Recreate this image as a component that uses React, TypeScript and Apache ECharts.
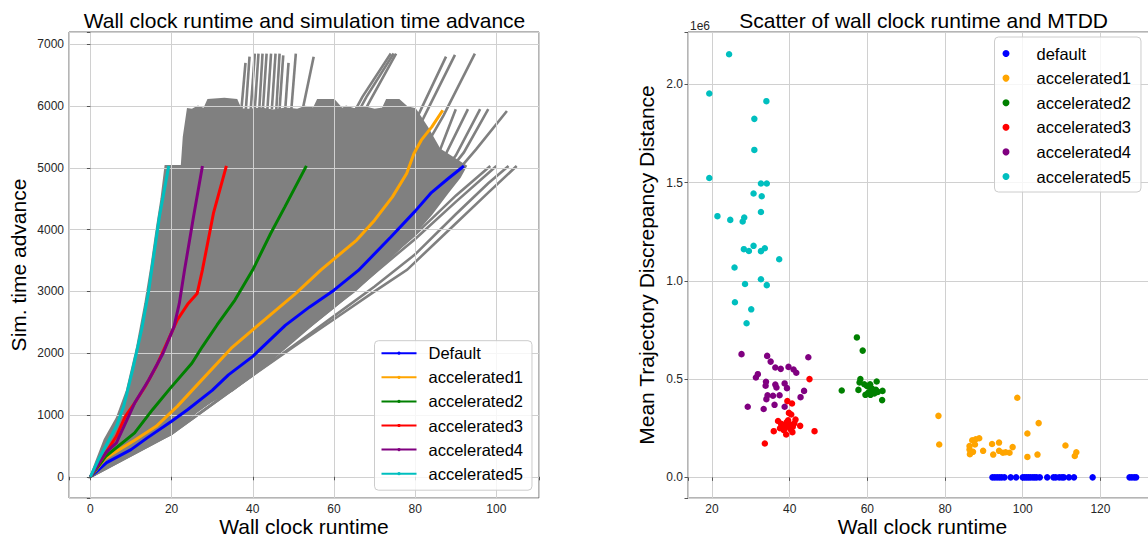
import { useEffect, useRef } from 'react';
import * as echarts from 'echarts';

const FONT = 'Liberation Sans, Arial, Helvetica, sans-serif';
const GREY = '#808080';

// ---------- Left chart: wall clock runtime vs simulation time advance ----------
const lineNames = ['Default', 'accelerated1', 'accelerated2', 'accelerated3', 'accelerated4', 'accelerated5'];
const lineColors = ['#0000ff', '#ffa500', '#008000', '#ff0000', '#800080', '#00bfbf'];

const defaultLine = [[0, 0], [4, 230], [10, 440], [14, 630], [20, 900], [24, 1090], [30, 1400], [34, 1650], [40, 1950], [48, 2450], [54, 2750], [60, 3020], [66, 3340], [74, 3880], [80, 4300], [84, 4600], [88, 4820], [92, 5030]];
const acc1Line = [[0, 0], [3.8, 306], [10.9, 591], [16.2, 817], [21.4, 1140], [26.7, 1516], [34.7, 2081], [40.9, 2430], [50.6, 2968], [56.8, 3350], [65.6, 3831], [70, 4154], [74.4, 4531], [77.9, 4908], [79.7, 5232], [81.5, 5448], [84.1, 5663], [86.8, 5933]];
const acc2Line = [[0, 0], [3.8, 333], [10.9, 710], [15.3, 1086], [19.7, 1435], [25, 1839], [27.6, 2108], [31.2, 2457], [35.6, 2860], [40, 3350], [44.4, 3938], [47.9, 4369], [53.2, 5032]];
const acc3Line = [[0, 0], [3.8, 387], [6.4, 656], [8.6, 978], [10.9, 1194], [13.5, 1462], [16.2, 1785], [18.8, 2161], [21.4, 2538], [24.1, 2806], [26.3, 2968], [27.6, 3350], [30.3, 4262], [33.5, 5032]];
const acc4Line = [[0, 0], [3.8, 390], [6.4, 548], [10.9, 1194], [14.4, 1570], [17.9, 2000], [20.6, 2430], [21.9, 2806], [23.2, 3350], [25.4, 4208], [27.6, 5032]];
const acc5Line = [[0, 0], [2, 280], [6.4, 817], [8.2, 1140], [10.4, 1731], [12.6, 2376], [14.4, 3022], [15.1, 3350], [17, 4208], [19.3, 5032]];
const coloredLines = [defaultLine, acc1Line, acc2Line, acc3Line, acc4Line, acc5Line];

// dense overlapping grey runs (solid core outline)
const greyCore = [
  [0, 0], [5, 190], [10, 380], [15, 540], [20, 690], [26, 1040], [30, 1230], [35, 1400], [40, 1650], [45, 1920], [50, 2200], [55, 2480], [60, 2750], [65, 3000], [70, 3300], [75, 3620], [80, 3950], [84, 4250], [88, 4600], [91, 4850], [92.5, 5030],
  [86, 5300], [83, 5650], [80, 5950], [78, 5980], [76, 6100], [73, 6100], [72, 5960], [70, 5940], [67, 5990], [65, 5950], [63, 5990], [62, 5950], [60, 6100], [56, 6100], [55, 5960], [53, 5990], [51, 5940], [48, 5960], [45, 5930], [42, 5960], [39, 5940], [37, 5950], [36, 6100], [33, 6120], [29, 6100], [28, 5950], [26.5, 5990], [25, 5940], [24, 5950],
  [23, 5500], [22.5, 5030], [18.5, 5030], [17.5, 4500], [16.3, 4000], [15, 3400], [13.5, 2800], [11.5, 2100], [9, 1400], [6.5, 950], [3.5, 600], [0, 0],
];

// individual grey runs that stand out of the dense core
const greyRuns = [
  [[37.2, 5950], [38.2, 6700]],
  [[38.3, 5950], [39.2, 6800]],
  [[39.5, 5950], [40.5, 6850]],
  [[40.5, 5950], [41.4, 6850]],
  [[41.6, 5950], [42.4, 6850]],
  [[42.5, 5950], [43.4, 6850]],
  [[43.6, 5950], [44.5, 6850]],
  [[44.7, 5950], [45.6, 6850]],
  [[45.8, 5950], [46.6, 6850]],
  [[46.6, 5950], [47.5, 6820]],
  [[48.0, 5950], [48.8, 6700]],
  [[49.5, 5950], [50.6, 6850]],
  [[52.3, 5950], [55.0, 6800]],
  [[60, 5300], [67, 6150], [74, 6850]],
  [[61, 5300], [68, 6150], [74.7, 6850]],
  [[62.5, 5300], [69, 6100], [75.3, 6850]],
  [[70, 4600], [80, 5750], [87.6, 6800]],
  [[72, 4600], [82, 5800], [89.8, 6830]],
  [[76, 4600], [87, 5850], [94.7, 6850]],
  [[0, 0], [40, 1800], [60, 3050], [75, 4200], [85, 5100], [90, 5950]],
  [[0, 0], [40, 1750], [60, 2950], [75, 4100], [87, 5150], [93, 5950]],
  [[0, 0], [40, 1700], [60, 2900], [78, 4200], [90, 5200], [96, 5950]],
  [[0, 0], [40, 1700], [60, 2850], [80, 4250], [92, 5250], [98, 5950]],
  [[0, 0], [40, 1650], [60, 2800], [80, 4150], [95, 5300], [102.6, 5920]],
  [[0, 0], [20, 700], [35.6, 1440], [50, 2100], [60, 2550], [70, 3000], [78, 3350], [90, 4100], [98, 4600], [105, 5030]],
  [[0, 0], [20, 700], [35.6, 1440], [50, 2120], [60, 2600], [70, 3080], [80, 3600], [90, 4250], [98, 4750], [103, 5030]],
  [[0, 0], [40, 1700], [60, 2750], [70, 3300], [80, 3850], [90, 4450], [100, 5030]],
  [[0, 0], [40, 1700], [60, 2780], [70, 3350], [80, 3920], [90, 4550], [98.5, 5030]],
];

// ---------- Right chart: scatter of wall clock runtime and MTDD ----------
const scatterNames = ['default', 'accelerated1', 'accelerated2', 'accelerated3', 'accelerated4', 'accelerated5'];
const scatterColors = ['#0000ff', '#ffa500', '#008000', '#ff0000', '#800080', '#00bfbf'];

const scDefault = [[92.2, 0], [92.8, 0], [93.4, 0], [94.0, 0], [94.6, 0], [95.3, 0], [96.9, 0], [98.3, 0], [100.0, 0], [100.5, 0], [101.0, 0], [101.5, 0], [102.0, 0], [102.6, 0], [103.1, 0], [103.6, 0], [104.4, 0], [106.3, 0], [107.9, 0], [108.5, 0], [109.4, 0], [110.1, 0], [110.6, 0], [111.9, 0], [113.2, 0], [118.0, 0], [127.5, 0], [128.1, 0], [128.7, 0], [129.2, 0]];
const scAcc1 = [[78.3, 313000], [78.5, 167000], [86.3, 159000], [86.3, 142000], [86.4, 118000], [87.0, 189000], [87.7, 167000], [87.9, 194000], [88.8, 199000], [87.2, 130000], [89.8, 135000], [92.1, 170000], [92.4, 116000], [93.9, 177000], [93.9, 135000], [94.9, 125000], [95.6, 128000], [96.6, 125000], [97.4, 154000], [98.6, 405000], [101.2, 223000], [101.2, 104000], [103.8, 116000], [104.1, 276000], [111.0, 162000], [113.4, 109000], [113.8, 128000]];
const scAcc2 = [[53.4, 442000], [57.3, 712000], [58.8, 645000], [58.2, 500000], [58.0, 483000], [57.7, 445000], [59.2, 474000], [60.7, 474000], [62.4, 488000], [60.3, 461000], [61.2, 452000], [59.5, 420000], [60.8, 420000], [61.8, 427000], [62.7, 435000], [63.9, 440000], [63.8, 393000], [59.9, 465000], [61.5, 440000], [62.2, 445000], [60.2, 430000], [61.0, 432000]];
const scAcc3 = [[45.1, 500000], [39.4, 388000], [40.6, 376000], [39.8, 328000], [40.4, 320000], [37.0, 287000], [41.5, 294000], [38.3, 265000], [39.2, 280000], [40.0, 270000], [39.0, 255000], [38.5, 240000], [40.8, 258000], [40.2, 245000], [37.8, 272000], [42.7, 262000], [41.2, 275000], [35.9, 235000], [39.1, 218000], [40.7, 230000], [46.4, 235000], [33.6, 172000], [37.5, 250000], [39.6, 290000]];
const scAcc4 = [[27.6, 627000], [34.2, 618000], [35.1, 589000], [36.3, 559000], [37.7, 552000], [39.7, 562000], [41.0, 549000], [41.7, 532000], [44.8, 611000], [31.8, 525000], [31.3, 508000], [33.9, 486000], [33.8, 466000], [36.3, 472000], [36.6, 457000], [38.7, 478000], [39.3, 454000], [43.7, 440000], [42.8, 408000], [34.3, 418000], [35.7, 415000], [37.4, 418000], [34.0, 398000], [29.2, 359000], [33.3, 348000], [36.1, 369000], [38.7, 359000]];
const scAcc5 = [[24.4, 2153000], [19.3, 1953000], [34.0, 1914000], [30.9, 1824000], [30.9, 1666000], [19.3, 1523000], [32.6, 1495000], [34.1, 1495000], [30.7, 1444000], [32.8, 1430000], [32.6, 1350000], [21.4, 1329000], [24.7, 1310000], [28.3, 1322000], [27.9, 1302000], [28.2, 1161000], [29.5, 1152000], [30.7, 1178000], [32.6, 1151000], [33.6, 1166000], [37.3, 1110000], [25.8, 1068000], [32.6, 1008000], [28.5, 984000], [34.1, 978000], [25.9, 891000], [30.1, 855000], [28.9, 784000]];
const scatterData = [scDefault, scAcc1, scAcc2, scAcc3, scAcc4, scAcc5];

const SC_PREFIX = 'sc:';

function buildOption(): any {
  const axisLabelBase = { fontFamily: FONT, fontSize: 12, color: '#262626', margin: 5 };
  const tick = { show: true, length: 3.5, lineStyle: { color: '#555' } };
  const split = { show: true, lineStyle: { color: '#d0d0d0', width: 1 } };
  const nameStyle = { fontFamily: FONT, fontSize: 21, color: '#000' };
  const mult = (step: number) => (v: number) => Math.abs(v / step - Math.round(v / step)) < 1e-6;

  const series: any[] = [];
  series.push({
    type: 'custom', xAxisIndex: 0, yAxisIndex: 0, z: -1, silent: true, data: [[0, 0]],
    renderItem: (_p: any, api: any) => ({
      type: 'polygon',
      shape: { points: greyCore.map((p) => api.coord(p)) },
      style: { fill: GREY, stroke: GREY, lineWidth: 2 },
    }),
  });
  series.push({
    type: 'custom', xAxisIndex: 0, yAxisIndex: 0, z: -1, silent: true,
    data: greyRuns.map((_r, i) => [i, 0]),
    renderItem: (p: any, api: any) => ({
      type: 'polyline',
      shape: { points: greyRuns[p.dataIndex].map((q) => api.coord(q)) },
      style: { stroke: GREY, lineWidth: 2.6, fill: null },
    }),
  });
  coloredLines.forEach((d, i) => {
    series.push({
      type: 'line', name: lineNames[i], xAxisIndex: 0, yAxisIndex: 0, data: d,
      showSymbol: false, symbol: 'circle', smooth: false,
      lineStyle: { width: 3, color: lineColors[i] }, itemStyle: { color: lineColors[i] }, z: 3,
    });
  });
  scatterData.forEach((d, i) => {
    series.push({
      type: 'scatter', name: SC_PREFIX + scatterNames[i], xAxisIndex: 1, yAxisIndex: 1, data: d,
      symbolSize: 6.5, itemStyle: { color: scatterColors[i], opacity: 1 }, z: 3,
    });
  });

  return {
    animation: false,
    backgroundColor: '#ffffff',
    title: [
      { text: 'Wall clock runtime and simulation time advance', left: 304.5, top: 9.5, textAlign: 'center', padding: 0, textStyle: { fontFamily: FONT, fontSize: 21, fontWeight: 'normal', color: '#000' } },
      { text: 'Scatter of wall clock runtime and MTDD', left: 923.6, top: 10, textAlign: 'center', padding: 0, textStyle: { fontFamily: FONT, fontSize: 21, fontWeight: 'normal', color: '#000' } },
    ],
    graphic: [
      { type: 'text', x: 690, y: 26, style: { text: '1e6', font: `12px ${FONT}`, fill: '#262626', verticalAlign: 'middle', align: 'left' } },
    ],
    grid: [
      { left: 69, top: 32, width: 470, height: 466, show: true, borderColor: '#6b6b6b', borderWidth: 1, backgroundColor: 'transparent', containLabel: false, outerBoundsMode: 'none' },
      { left: 688, top: 32, width: 469, height: 466, show: true, borderColor: '#6b6b6b', borderWidth: 1, backgroundColor: 'transparent', containLabel: false, outerBoundsMode: 'none' },
    ],
    xAxis: [
      {
        type: 'value', gridIndex: 0, min: -5.27, max: 110.5, splitNumber: 5,
        name: 'Wall clock runtime', nameLocation: 'middle', nameGap: 17.5, nameMoveOverlap: false, nameTextStyle: nameStyle,
        axisLine: { show: false }, axisTick: tick, splitLine: split,
        axisLabel: { ...axisLabelBase, formatter: (v: number) => (mult(20)(v) ? String(Math.round(v)) : '') },
      },
      {
        type: 'value', gridIndex: 1, min: 13.82, max: 134.57, splitNumber: 5,
        name: 'Wall clock runtime', nameLocation: 'middle', nameGap: 17.5, nameMoveOverlap: false, nameTextStyle: nameStyle,
        axisLine: { show: false }, axisTick: tick, splitLine: split,
        axisLabel: { ...axisLabelBase, formatter: (v: number) => (mult(20)(v) ? String(Math.round(v)) : '') },
      },
    ],
    yAxis: [
      {
        type: 'value', gridIndex: 0, min: -343, max: 7199, splitNumber: 8,
        name: 'Sim. time advance', nameLocation: 'middle', nameGap: 40, nameMoveOverlap: false, nameRotate: 90, nameTextStyle: nameStyle,
        axisLine: { show: false }, axisTick: tick, splitLine: split,
        axisLabel: { ...axisLabelBase, formatter: (v: number) => (mult(1000)(v) ? String(Math.round(v)) : '') },
      },
      {
        type: 'value', gridIndex: 1, min: -105000, max: 2266000, splitNumber: 5,
        name: 'Mean Trajectory Discrepancy Distance', nameLocation: 'middle', nameGap: 31, nameMoveOverlap: false, nameRotate: 90, nameTextStyle: nameStyle,
        axisLine: { show: false }, axisTick: tick, splitLine: split,
        axisLabel: { ...axisLabelBase, formatter: (v: number) => (mult(500000)(v) ? (v / 1e6).toFixed(1) : '') },
      },
    ],
    legend: [
      {
        data: lineNames, orient: 'vertical', left: 374.5, top: 340.7, padding: [4, 9, 8, 6],
        itemGap: 7.1, itemWidth: 35, itemHeight: 4, selectedMode: false,
        backgroundColor: 'rgba(255,255,255,0.8)', borderColor: '#cccccc', borderWidth: 1, borderRadius: 4,
        lineStyle: { width: 2 },
        textStyle: { fontFamily: FONT, fontSize: 16.5, color: '#000', padding: [0, 0, 0, 7] },
      },
      {
        data: scatterNames.map((n) => SC_PREFIX + n), orient: 'vertical', left: 994.5, top: 37, padding: [8, 10, 7, 8],
        itemGap: 7.6, itemWidth: 29, itemHeight: 7, icon: 'circle', selectedMode: false,
        formatter: (n: string) => n.replace(SC_PREFIX, ''),
        backgroundColor: 'rgba(255,255,255,0.8)', borderColor: '#cccccc', borderWidth: 1, borderRadius: 4,
        textStyle: { fontFamily: FONT, fontSize: 16.5, color: '#000', padding: [0, 0, 0, 11] },
      },
    ],
    series,
  };
}

export default function App() {
  const ref = useRef<HTMLDivElement>(null);
  useEffect(() => {
    if (!ref.current) return;
    const chart = echarts.init(ref.current, null, { renderer: 'svg' });
    chart.setOption(buildOption());
    return () => chart.dispose();
  }, []);
  return (
    <div
      ref={ref}
      style={{ position: 'fixed', left: 0, top: 0, width: 1148, height: 539, background: '#fff' }}
    />
  );
}
